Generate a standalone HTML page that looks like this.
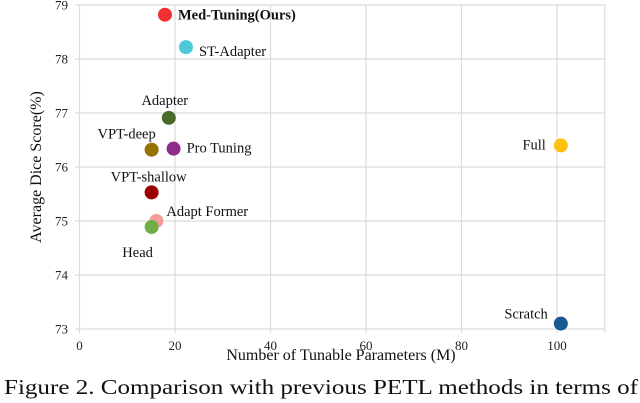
<!DOCTYPE html>
<html><head><meta charset="utf-8"><style>
html,body{margin:0;padding:0;background:#fff;}
svg{display:block;font-family:"Liberation Serif",serif;}
</style></head><body>
<svg width="640" height="403" viewBox="0 0 640 403">
<g id="grid"></g>
<g id="ticks"></g>
<g id="marks"></g>
<text x="341" y="360" font-size="16" text-anchor="middle" fill="#111">Number of Tunable Parameters (M)</text>
<text transform="translate(41,167) rotate(-90)" font-size="16" text-anchor="middle" fill="#111">Average Dice Score(%)</text>
<text x="4" y="394" font-size="21.5" fill="#111" textLength="634" lengthAdjust="spacingAndGlyphs">Figure 2. Comparison with previous PETL methods in terms of</text>
</svg>
<script>
const names=["Med-Tuning(Ours)","ST-Adapter","Adapter","VPT-deep","Pro Tuning","VPT-shallow","Adapt Former","Head","Full","Scratch"];
const params=[17.9,22.3,18.7,15.1,19.7,15.1,16.1,15.1,100.8,100.8];
const dice=[78.82,78.22,76.91,76.32,76.34,75.53,75.0,74.89,76.4,73.1];
const colors=["#f23030","#4ec9d8","#4a6a2a","#957200","#8d2d8a","#9a0000","#f79a98","#6fad46","#fdc010","#1a5a94"];
const xTicks=[0,20,40,60,80,100];
const yTicks=[73,74,75,76,77,78,79];
const x0=79.5,xs=4.775,y0=329,ys=54;
function X(v){return x0+v*xs;}
function Y(v){return y0-(v-73)*ys;}
const NS="http://www.w3.org/2000/svg";
function mk(t,a){const e=document.createElementNS(NS,t);for(const k in a)e.setAttribute(k,a[k]);return e;}
const grid=document.getElementById('grid'),ticks=document.getElementById('ticks'),marks=document.getElementById('marks');
[...xTicks,110].forEach(v=>{const l=mk('line',{x1:X(v),x2:X(v),y1:Y(79),y2:Y(73)+4,stroke:'#dcdcdc','stroke-width':1.2});


grid.appendChild(l);});
yTicks.forEach(v=>{const l=mk('line',{x1:X(0)-4,x2:X(110),y1:Y(v),y2:Y(v),stroke:'#dcdcdc','stroke-width':1.2});


grid.appendChild(l);});
xTicks.forEach(v=>{const t=mk('text',{x:X(v),y:350,'font-size':13,'text-anchor':'middle',fill:'#222'});t.textContent=v;


ticks.appendChild(t);});
yTicks.forEach(v=>{const t=mk('text',{x:68,y:Y(v)+4.5,'font-size':13,'text-anchor':'end',fill:'#222'});t.textContent=v;


ticks.appendChild(t);});
const lab=[[13,5,'start',1],[13,9,'start',0],[-4,-13,'middle',0],[-25,-11,'middle',0],[13,4,'start',0],[-3,-11,'middle',0],[10,-5,'start',0],[-14,30,'middle',0],[-15,4,'end',0],[-13,-5,'end',0]];
names.forEach((n,i)=>{const c=mk('circle',{cx:X(params[i]),cy:Y(dice[i]),r:7,fill:colors[i]});


marks.appendChild(c);
const L=lab[i];const t=mk('text',{x:X(params[i])+L[0],y:Y(dice[i])+L[1],'font-size':14.5,'text-anchor':L[2],fill:'#111','font-weight':L[3]?'bold':'normal'});t.textContent=n;


marks.appendChild(t);});
</script>
</body></html>
